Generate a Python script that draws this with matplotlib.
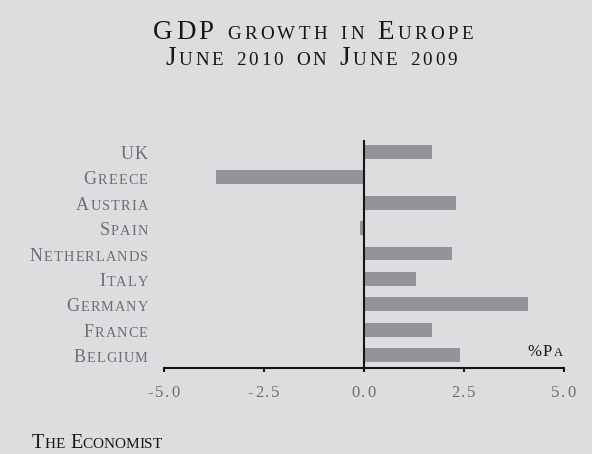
import matplotlib
matplotlib.use("Agg")
import matplotlib.pyplot as plt
from matplotlib import font_manager
from matplotlib.ft2font import FT2Font
from matplotlib.transforms import IdentityTransform

# ---- data -------------------------------------------------------------
countries = ["UK", "Greece", "Austria", "Spain", "Netherlands",
             "Italy", "Germany", "France", "Belgium"]
growth = [1.7, -3.7, 2.3, -0.1, 2.2, 1.3, 4.1, 1.7, 2.4]
x_ticks = [-5.0, -2.5, 0.0, 2.5, 5.0]
x_tick_labels = ["-5.0", "-2.5", "0.0", "2.5", "5.0"]
title_lines = ["GDP growth in Europe", "June 2010 on June 2009"]
unit_label = "%Pa"
source_label = "The Economist"

# ---- style ------------------------------------------------------------
W, H, DPI = 592, 454, 100
BG = "#dcdddf"
BAR = "#939398"
INK = "#151515"
GREY = "#6e6e72"
FAMILY = "Liberation Serif"

FONT_FILE = font_manager.findfont(font_manager.FontProperties(family=FAMILY))
_ft = FT2Font(FONT_FILE, hinting_factor=1)


def advance(ch, size):
    """Horizontal advance of one glyph, in pixels."""
    _ft.set_size(size, DPI)
    return _ft.load_char(ord(ch)).linearHoriAdvance / 65536


def small_caps(fig, s, x, y, size, ratio, color, ha="left", track=0.0,
               width=None, small_digits=False):
    """Draw s in small caps with its baseline at display pixel (x, y)."""
    glyphs = []
    for ch in s:
        small = ch.islower() or (small_digits and ch.isdigit())
        glyphs.append((ch.upper(), size * ratio if small else size))
    advs = [advance(c, sz) for c, sz in glyphs]
    natural = sum(advs)
    if width is not None and len(glyphs) > 1:
        track = (width - natural) / (len(glyphs) - 1)
    total = natural + track * (len(glyphs) - 1)
    if ha == "right":
        x -= total
    elif ha == "center":
        x -= total / 2
    for (c, sz), a in zip(glyphs, advs):
        if c != " ":
            fig.text(x, y, c, fontsize=sz, family=FAMILY, color=color,
                     ha="left", va="baseline", transform=IdentityTransform())
        x += a + track


fig = plt.figure(figsize=(W / DPI, H / DPI), dpi=DPI, facecolor=BG)
ax = fig.add_axes([163.5 / W, 1 - 368 / H, 400 / W, 228 / H])
ax.set_facecolor(BG)

n = len(countries)
pos = [n - 1 - i for i in range(n)]
ax.barh(pos, growth, height=0.55, color=BAR, zorder=2)
ax.axvline(0, color=INK, lw=1.5, zorder=3)

ax.set_xlim(-5, 5)
ax.set_ylim(-0.512, n - 1 + 0.473)
for side in ("top", "right", "left"):
    ax.spines[side].set_visible(False)
ax.spines["bottom"].set_color(INK)
ax.spines["bottom"].set_linewidth(1.5)
ax.set_yticks([])
ax.set_xticks(x_ticks)
ax.set_xticklabels([])
ax.tick_params(axis="x", direction="out", length=3, width=1.5, color=INK)

# category labels, right-aligned left of the axes
for p, name in zip(pos, countries):
    yd = ax.transData.transform((0, p))[1]
    small_caps(fig, name, 147.5, yd - 7, 13, 0.8, GREY, ha="right", track=1.3)

# x tick labels
for v, lab in zip(x_ticks, x_tick_labels):
    xd = ax.transData.transform((v, 0))[0]
    small_caps(fig, lab, xd, H - 397, 12, 1.0, GREY, ha="center", track=1.8)

# title
small_caps(fig, title_lines[0], 153, H - 39, 19.5, 0.7, INK, width=320)
small_caps(fig, title_lines[1], 165, H - 65, 19.5, 0.7, INK, width=292,
           small_digits=True)

# unit and source
small_caps(fig, unit_label, 563, H - 356, 12, 0.75, INK, ha="right", width=36)
small_caps(fig, source_label, 32, H - 447.5, 14.5, 0.76, INK, width=130)

fig.savefig("out.png", dpi=DPI, facecolor=BG)
